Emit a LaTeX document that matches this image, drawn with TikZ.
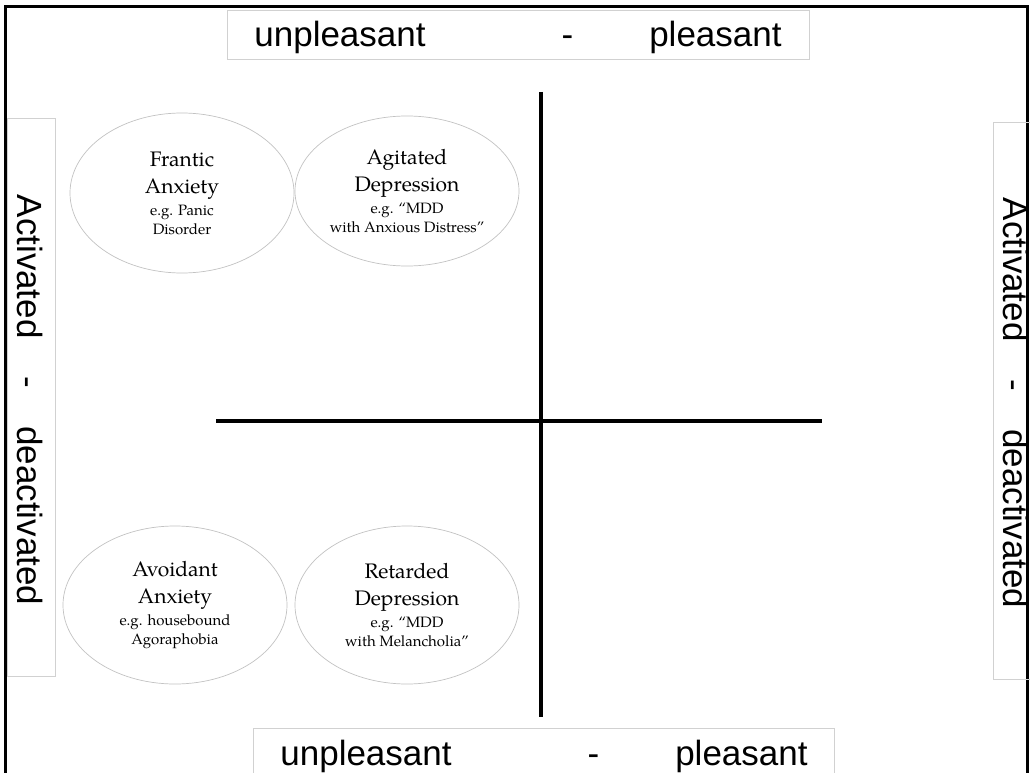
\documentclass[tikz,border=0pt]{standalone}
\usepackage{fontspec}
\newfontfamily\labelfont{Liberation Sans}
\newfontfamily\moodfont{TeX Gyre Pagella}
\usetikzlibrary{shapes.geometric}

\newcommand{\frameLineWidth}{3}
\newcommand{\axisLineWidth}{4}
\newcommand{\boxLineWidth}{0.8}
\newcommand{\axisX}{541}
\newcommand{\axisY}{421}
\newcommand{\axisTopY}{92}
\newcommand{\axisBottomY}{717}
\newcommand{\axisLeftX}{216}
\newcommand{\axisRightX}{822}
\newcommand{\ellipseLeftX}{182}
\newcommand{\ellipseRightX}{407}
\newcommand{\ellipseTopY}{191}
\newcommand{\ellipseBottomY}{605}

\definecolor{boxgray}{gray}{0.82}
\definecolor{ellipsegray}{gray}{0.76}

\tikzset{
    axislabel/.style={font=\labelfont\fontsize{35}{42}\selectfont, inner sep=0pt},
    moodellipse/.style={ellipse, draw=ellipsegray, line width=0.7pt, minimum width=224pt, minimum height=158pt, inner sep=0pt, align=center, font={\moodfont\fontsize{15}{19}\selectfont\lineskiplimit=-50pt}}
}
\newcommand{\bigtxt}[1]{{\fontsize{21}{26}\selectfont #1}}

\begin{document}
\begin{tikzpicture}[x=1pt, y=-1pt]
        \useasboundingbox (0,0) rectangle (1030,773);

        % Outer frame
        \draw [line width=\frameLineWidth] (5,780) -- (5,7) -- (1027,7) -- (1027,780);

        % Label boxes
        \draw [line width=\boxLineWidth, boxgray] (227,10) rectangle (809,59);
        \draw [line width=\boxLineWidth, boxgray] (253,728) rectangle (834,780);
        \draw [line width=\boxLineWidth, boxgray] (7,118) rectangle (55,676);
        \draw [line width=\boxLineWidth, boxgray] (993,122) rectangle (1045,679);

        % Axis labels
        \node[axislabel, anchor=base] (topLabel) at (518,47) {unpleasant\hspace{136pt}-\hspace{76pt}pleasant};
        \node[axislabel, anchor=base] (bottomLabel) at (544,765) {unpleasant\hspace{136pt}-\hspace{76pt}pleasant};
        \node[axislabel, rotate=-90] (leftLabel) at (30,400) {Activated\hspace{38pt}-\hspace{38pt}deactivated};
        \node[axislabel, rotate=-90] (rightLabel) at (1016,403) {Activated\hspace{38pt}-\hspace{38pt}deactivated};

        % Draw axes
        \coordinate (axisTop) at (\axisX,\axisTopY);
        \coordinate (axisBottom) at (\axisX,\axisBottomY);
        \coordinate (axisLeft) at (\axisLeftX,\axisY);
        \coordinate (axisRight) at (\axisRightX,\axisY);
        \draw [line width=\axisLineWidth, black] (axisTop) -- (axisBottom);
        \draw [line width=\axisLineWidth, black] (axisLeft) -- (axisRight);

        % Mood ellipses
        \node[moodellipse, minimum height=160pt] (franticAnxiety) at (\ellipseLeftX,193) {\bigtxt{Frantic}\\[8pt]\bigtxt{Anxiety}\\[3pt]e.g. Panic\\Disorder};
        \node[moodellipse, minimum height=150pt] (agitatedDepression) at (\ellipseRightX,\ellipseTopY) {\bigtxt{Agitated}\\[8pt]\bigtxt{Depression}\\[3pt]e.g. “MDD\\with Anxious Distress”};
        \node[moodellipse] (avoidantAnxiety) at (175,\ellipseBottomY) {\bigtxt{Avoidant}\\[8pt]\bigtxt{Anxiety}\\[3pt]e.g. housebound\\Agoraphobia};
        \node[moodellipse] (retardedDepression) at (\ellipseRightX,\ellipseBottomY) {\bigtxt{Retarded}\\[8pt]\bigtxt{Depression}\\[3pt]e.g. “MDD\\with Melancholia”};
    \end{tikzpicture}
\end{document}
